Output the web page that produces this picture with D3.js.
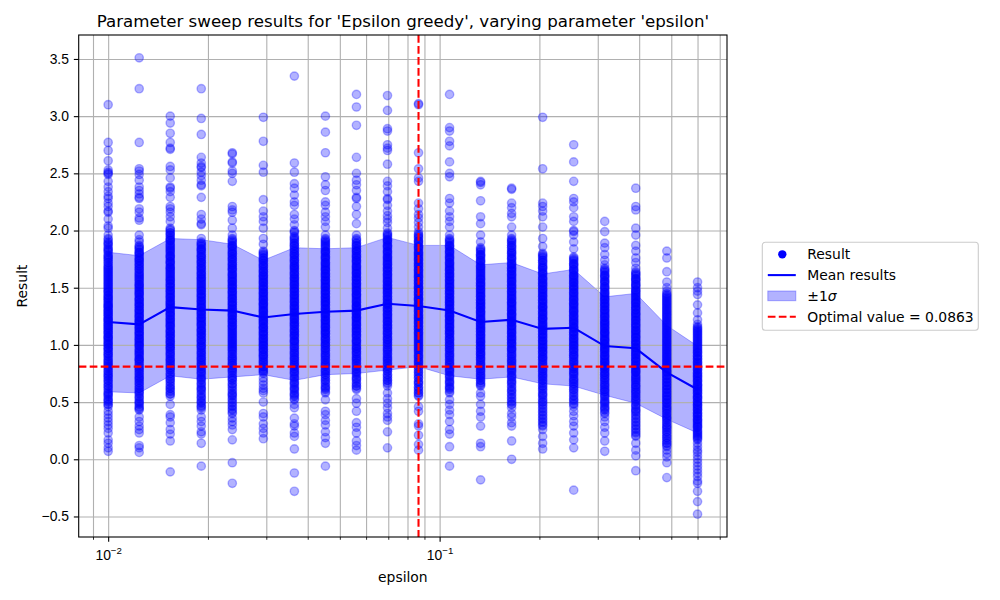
<!DOCTYPE html>
<html>
<head>
<meta charset="utf-8">
<script src="https://cdn.jsdelivr.net/npm/d3@7"></script>
<style>
  body { margin: 0; background: #fff; }
  svg { font-family: "DejaVu Sans", sans-serif; }
</style>
</head>
<body>
<svg id="chart" width="1000" height="600"></svg>
<script>
// swept values of epsilon (log spaced)
let epsilons = [0.0100, 0.012406, 0.015391, 0.019094, 0.023688, 0.029388, 0.036459, 0.045231, 0.056114, 0.069616,
                0.086366, 0.10715, 0.13293, 0.16491, 0.20459, 0.25382, 0.31489, 0.39065, 0.48464, 0.6000];

// results of every run, one list per epsilon
let res0 = [3.10, 2.77, 2.70, 2.61, 2.53, 2.51, 2.50, 2.49, 2.43, 2.38, 2.34, 2.30, 2.28, 2.24, 2.21, 2.17, 2.16, 2.10, 2.04, 2.02, 1.96,
  1.93, 1.90, 1.88, 1.85, 1.83, 1.81, 1.78, 1.76, 1.75, 1.72, 1.70, 1.68, 1.66, 1.64, 1.62, 1.61, 1.59, 1.57, 1.55, 1.54, 1.52, 1.50, 1.49, 1.47, 1.46, 1.44, 1.43, 1.41, 1.40, 1.38, 1.37, 1.35, 1.34, 1.33, 1.31, 1.30, 1.29, 1.27, 1.26, 1.25, 1.23, 1.22, 1.21, 1.19, 1.18, 1.17, 1.15, 1.14, 1.13, 1.11, 1.10, 1.08, 1.07, 1.06, 1.04, 1.03, 1.01, 1.00, 0.98, 0.97, 0.95, 0.93, 0.92, 0.90, 0.88, 0.86, 0.84, 0.83, 0.81, 0.79, 0.77, 0.75, 0.73, 0.71, 0.69, 0.66, 0.64, 0.62, 0.59, 0.57, 0.55, 0.52, 0.50, 0.48, 0.46,
  0.42, 0.39, 0.36, 0.33, 0.30, 0.27, 0.23, 0.17, 0.14, 0.10, 0.07];
let res1 = [3.51, 3.24, 2.77, 2.54, 2.52, 2.49, 2.44, 2.38, 2.35, 2.32, 2.29, 2.28, 2.19, 2.16, 2.11, 2.09, 1.96, 1.92, 1.90,
  1.87, 1.85, 1.83, 1.81, 1.80, 1.78, 1.76, 1.74, 1.73, 1.71, 1.69, 1.67, 1.66, 1.64, 1.62, 1.60, 1.59, 1.57, 1.55, 1.53, 1.52, 1.50, 1.48, 1.47, 1.45, 1.44, 1.42, 1.40, 1.39, 1.37, 1.36, 1.34, 1.33, 1.31, 1.30, 1.28, 1.27, 1.25, 1.24, 1.22, 1.21, 1.20, 1.18, 1.17, 1.15, 1.14, 1.12, 1.11, 1.09, 1.08, 1.06, 1.05, 1.03, 1.02, 1.00, 0.99, 0.97, 0.95, 0.94, 0.92, 0.90, 0.88, 0.87, 0.85, 0.83, 0.81, 0.79, 0.77, 0.75, 0.73, 0.71, 0.69, 0.67, 0.64, 0.62, 0.60, 0.58, 0.55, 0.53, 0.50, 0.48, 0.45, 0.43,
  0.37, 0.33, 0.29, 0.26, 0.23, 0.12, 0.10, 0.06];
let res2 = [3.00, 2.94, 2.85, 2.77, 2.72, 2.71, 2.56, 2.53, 2.46, 2.38, 2.37, 2.34, 2.29, 2.21, 2.19, 2.16, 2.12, 2.08,
  2.02, 2.00, 1.98, 1.96, 1.94, 1.92, 1.91, 1.89, 1.87, 1.85, 1.84, 1.82, 1.80, 1.78, 1.77, 1.75, 1.73, 1.72, 1.70, 1.68, 1.67, 1.65, 1.64, 1.62, 1.60, 1.59, 1.57, 1.56, 1.54, 1.53, 1.51, 1.50, 1.48, 1.47, 1.45, 1.44, 1.42, 1.41, 1.39, 1.38, 1.36, 1.35, 1.34, 1.32, 1.31, 1.29, 1.28, 1.26, 1.25, 1.23, 1.22, 1.20, 1.19, 1.17, 1.16, 1.14, 1.12, 1.11, 1.09, 1.08, 1.06, 1.04, 1.03, 1.01, 0.99, 0.98, 0.96, 0.94, 0.92, 0.90, 0.88, 0.86, 0.84, 0.82, 0.80, 0.78, 0.75, 0.73, 0.70, 0.68, 0.65, 0.62, 0.60, 0.57, 0.55,
  0.48, 0.39, 0.37, 0.32, 0.26, 0.22, 0.16, -0.11];
let res3 = [3.24, 2.98, 2.84, 2.64, 2.59, 2.56, 2.55, 2.51, 2.48, 2.44, 2.40, 2.39, 2.29, 2.14, 2.10, 2.06, 2.05, 1.93,
  1.90, 1.88, 1.86, 1.84, 1.83, 1.81, 1.79, 1.77, 1.76, 1.74, 1.72, 1.71, 1.69, 1.67, 1.66, 1.64, 1.62, 1.61, 1.59, 1.58, 1.56, 1.55, 1.53, 1.51, 1.50, 1.48, 1.47, 1.45, 1.44, 1.42, 1.41, 1.39, 1.38, 1.36, 1.35, 1.33, 1.32, 1.30, 1.29, 1.27, 1.26, 1.24, 1.23, 1.21, 1.20, 1.18, 1.17, 1.15, 1.13, 1.12, 1.10, 1.09, 1.07, 1.05, 1.04, 1.02, 1.00, 0.99, 0.97, 0.95, 0.93, 0.91, 0.89, 0.87, 0.85, 0.83, 0.81, 0.79, 0.77, 0.75, 0.72, 0.70, 0.67, 0.65, 0.62, 0.60, 0.57, 0.54, 0.51, 0.49, 0.46, 0.43,
  0.37, 0.33, 0.29, 0.24, 0.22, 0.14, -0.06];
let res4 = [2.68, 2.67, 2.60, 2.59, 2.52, 2.50, 2.43, 2.21, 2.18, 2.16, 2.09, 2.02, 1.96,
  1.93, 1.91, 1.89, 1.87, 1.86, 1.84, 1.82, 1.80, 1.79, 1.77, 1.75, 1.74, 1.72, 1.70, 1.69, 1.67, 1.66, 1.64, 1.62, 1.61, 1.59, 1.58, 1.56, 1.55, 1.53, 1.52, 1.50, 1.49, 1.47, 1.46, 1.44, 1.43, 1.41, 1.40, 1.38, 1.37, 1.35, 1.34, 1.32, 1.31, 1.29, 1.28, 1.26, 1.25, 1.23, 1.22, 1.20, 1.19, 1.17, 1.16, 1.14, 1.13, 1.11, 1.09, 1.08, 1.06, 1.04, 1.03, 1.01, 0.99, 0.98, 0.96, 0.94, 0.92, 0.90, 0.88, 0.86, 0.84, 0.82, 0.80, 0.78, 0.76, 0.73, 0.71, 0.69, 0.66, 0.64, 0.61, 0.58, 0.56, 0.53, 0.50, 0.47, 0.44, 0.40,
  0.36, 0.33, 0.30, 0.26, 0.17, -0.03, -0.21];
let res5 = [2.99, 2.78, 2.57, 2.51, 2.27, 2.17, 2.12, 2.08, 2.02, 1.93, 1.88,
  1.82, 1.80, 1.78, 1.76, 1.74, 1.73, 1.71, 1.69, 1.68, 1.66, 1.64, 1.63, 1.61, 1.60, 1.58, 1.57, 1.55, 1.54, 1.52, 1.51, 1.49, 1.48, 1.46, 1.45, 1.43, 1.42, 1.40, 1.39, 1.37, 1.36, 1.35, 1.33, 1.32, 1.30, 1.29, 1.28, 1.26, 1.25, 1.23, 1.22, 1.21, 1.19, 1.18, 1.16, 1.15, 1.14, 1.12, 1.11, 1.09, 1.08, 1.06, 1.05, 1.03, 1.02, 1.00, 0.99, 0.97, 0.96, 0.94, 0.92, 0.91, 0.89, 0.87, 0.85, 0.83, 0.81, 0.79, 0.77, 0.75,
  0.71, 0.68, 0.65, 0.62, 0.60, 0.58, 0.50, 0.40, 0.37, 0.31, 0.27, 0.23, 0.18];
let res6 = [3.35, 2.59, 2.51, 2.41, 2.37, 2.31, 2.25, 2.22, 2.14, 2.10, 2.05, 2.00, 1.99, 1.98,
  1.95, 1.93, 1.91, 1.89, 1.87, 1.86, 1.84, 1.82, 1.80, 1.79, 1.77, 1.75, 1.74, 1.72, 1.70, 1.69, 1.67, 1.66, 1.64, 1.62, 1.61, 1.59, 1.58, 1.56, 1.55, 1.53, 1.52, 1.50, 1.49, 1.47, 1.46, 1.44, 1.43, 1.41, 1.40, 1.38, 1.37, 1.35, 1.34, 1.32, 1.31, 1.29, 1.28, 1.26, 1.25, 1.23, 1.22, 1.20, 1.19, 1.17, 1.16, 1.14, 1.12, 1.11, 1.09, 1.08, 1.06, 1.04, 1.03, 1.01, 0.99, 0.97, 0.95, 0.93, 0.91, 0.89, 0.87, 0.85, 0.83, 0.81, 0.79, 0.77, 0.75, 0.72, 0.70, 0.67, 0.65, 0.62, 0.60, 0.57, 0.55, 0.52,
  0.48, 0.45, 0.36, 0.31, 0.29, 0.23, 0.20, 0.09, -0.12, -0.28];
let res7 = [3.00, 2.86, 2.68, 2.47, 2.40, 2.35, 2.25, 2.22, 2.16, 2.12, 2.08, 2.03, 1.96,
  1.93, 1.91, 1.89, 1.88, 1.86, 1.84, 1.82, 1.81, 1.79, 1.77, 1.76, 1.74, 1.72, 1.71, 1.69, 1.68, 1.66, 1.65, 1.63, 1.62, 1.60, 1.59, 1.57, 1.56, 1.54, 1.53, 1.51, 1.50, 1.48, 1.47, 1.45, 1.44, 1.42, 1.41, 1.39, 1.38, 1.37, 1.35, 1.34, 1.32, 1.31, 1.29, 1.28, 1.27, 1.25, 1.24, 1.22, 1.21, 1.19, 1.18, 1.16, 1.15, 1.13, 1.12, 1.10, 1.09, 1.07, 1.05, 1.04, 1.02, 1.00, 0.99, 0.97, 0.95, 0.93, 0.91, 0.89, 0.87, 0.85, 0.83, 0.81, 0.78, 0.76, 0.74, 0.71, 0.69, 0.66, 0.63, 0.61, 0.58,
  0.52, 0.42, 0.39, 0.34, 0.30, 0.24, 0.19, 0.14, -0.06];
let res8 = [3.19, 3.08, 2.92, 2.64, 2.50, 2.44, 2.40, 2.35, 2.29, 2.28, 2.21, 2.14, 2.06, 1.96,
  1.93, 1.91, 1.89, 1.87, 1.86, 1.84, 1.82, 1.81, 1.79, 1.77, 1.76, 1.74, 1.73, 1.71, 1.69, 1.68, 1.66, 1.65, 1.63, 1.62, 1.60, 1.59, 1.57, 1.56, 1.54, 1.53, 1.51, 1.50, 1.48, 1.47, 1.45, 1.44, 1.43, 1.41, 1.40, 1.38, 1.37, 1.35, 1.34, 1.33, 1.31, 1.30, 1.28, 1.27, 1.25, 1.24, 1.23, 1.21, 1.20, 1.18, 1.17, 1.15, 1.14, 1.12, 1.11, 1.09, 1.08, 1.06, 1.04, 1.03, 1.01, 0.99, 0.97, 0.96, 0.94, 0.92, 0.90, 0.88, 0.86, 0.84, 0.82, 0.79, 0.77, 0.75, 0.72, 0.70, 0.67, 0.64, 0.61,
  0.53, 0.49, 0.42, 0.32, 0.28, 0.23, 0.16, 0.12, 0.08];
let res9 = [3.18, 3.05, 2.89, 2.87, 2.75, 2.72, 2.70, 2.58, 2.43, 2.39, 2.34, 2.28, 2.27, 2.22, 2.17, 2.13, 2.10, 2.07, 2.02,
  1.98, 1.96, 1.94, 1.92, 1.91, 1.89, 1.87, 1.86, 1.84, 1.82, 1.81, 1.79, 1.77, 1.76, 1.74, 1.73, 1.71, 1.70, 1.68, 1.67, 1.65, 1.64, 1.62, 1.61, 1.59, 1.58, 1.56, 1.55, 1.53, 1.52, 1.50, 1.49, 1.48, 1.46, 1.45, 1.43, 1.42, 1.40, 1.39, 1.37, 1.36, 1.35, 1.33, 1.32, 1.30, 1.29, 1.27, 1.26, 1.24, 1.23, 1.21, 1.20, 1.18, 1.17, 1.15, 1.14, 1.12, 1.10, 1.09, 1.07, 1.05, 1.04, 1.02, 1.00, 0.98, 0.96, 0.94, 0.92, 0.90, 0.88, 0.86, 0.84, 0.81, 0.79, 0.77, 0.74, 0.72, 0.69, 0.67, 0.64,
  0.58, 0.53, 0.49, 0.45, 0.40, 0.37, 0.34, 0.24, 0.10];
let res10 = [3.11, 3.10, 2.68, 2.54, 2.46, 2.43, 2.24, 2.19, 2.14, 2.11, 2.07, 2.03, 1.99,
  1.97, 1.95, 1.93, 1.91, 1.90, 1.88, 1.86, 1.85, 1.83, 1.81, 1.80, 1.78, 1.77, 1.75, 1.74, 1.72, 1.71, 1.69, 1.68, 1.66, 1.65, 1.63, 1.62, 1.60, 1.59, 1.57, 1.56, 1.54, 1.53, 1.51, 1.50, 1.49, 1.47, 1.46, 1.44, 1.43, 1.41, 1.40, 1.39, 1.37, 1.36, 1.34, 1.33, 1.32, 1.30, 1.29, 1.27, 1.26, 1.24, 1.23, 1.22, 1.20, 1.19, 1.17, 1.16, 1.14, 1.13, 1.11, 1.10, 1.08, 1.07, 1.05, 1.03, 1.02, 1.00, 0.98, 0.97, 0.95, 0.93, 0.91, 0.89, 0.87, 0.85, 0.83, 0.81, 0.78, 0.76, 0.73, 0.71, 0.68, 0.66, 0.63, 0.60, 0.58, 0.55,
  0.46, 0.42, 0.31, 0.29, 0.21, 0.13, 0.08];
let res11 = [3.19, 2.90, 2.87, 2.78, 2.74, 2.60, 2.50, 2.47, 2.28, 2.24, 2.17, 2.12, 2.08, 2.03, 1.96,
  1.93, 1.91, 1.89, 1.87, 1.86, 1.84, 1.82, 1.81, 1.79, 1.77, 1.76, 1.74, 1.72, 1.71, 1.69, 1.68, 1.66, 1.65, 1.63, 1.62, 1.60, 1.59, 1.57, 1.56, 1.54, 1.53, 1.51, 1.50, 1.48, 1.47, 1.45, 1.44, 1.42, 1.41, 1.39, 1.38, 1.37, 1.35, 1.34, 1.32, 1.31, 1.29, 1.28, 1.26, 1.25, 1.24, 1.22, 1.21, 1.19, 1.18, 1.16, 1.15, 1.13, 1.12, 1.10, 1.09, 1.07, 1.05, 1.04, 1.02, 1.00, 0.99, 0.97, 0.95, 0.93, 0.91, 0.89, 0.87, 0.85, 0.83, 0.80, 0.78, 0.76, 0.73, 0.71, 0.68, 0.66, 0.63, 0.61, 0.58,
  0.52, 0.48, 0.43, 0.39, 0.33, 0.26, 0.22, 0.11, -0.06];
let res12 = [2.43, 2.42, 2.40, 2.26, 2.12, 2.06, 1.96, 1.90,
  1.85, 1.83, 1.81, 1.79, 1.78, 1.76, 1.74, 1.73, 1.71, 1.69, 1.68, 1.66, 1.65, 1.63, 1.61, 1.60, 1.58, 1.57, 1.55, 1.54, 1.52, 1.51, 1.49, 1.48, 1.46, 1.45, 1.43, 1.42, 1.40, 1.39, 1.37, 1.36, 1.35, 1.33, 1.32, 1.30, 1.29, 1.28, 1.26, 1.25, 1.23, 1.22, 1.21, 1.19, 1.18, 1.16, 1.15, 1.14, 1.12, 1.11, 1.09, 1.08, 1.06, 1.05, 1.03, 1.02, 1.00, 0.99, 0.97, 0.96, 0.94, 0.92, 0.91, 0.89, 0.87, 0.85, 0.83, 0.81, 0.79, 0.77, 0.75, 0.73, 0.71, 0.69, 0.66, 0.64,
  0.58, 0.55, 0.48, 0.42, 0.37, 0.29, 0.14, 0.11, -0.18];
let res13 = [2.37, 2.36, 2.24, 2.20, 2.15, 2.12, 2.03, 1.96,
  1.93, 1.91, 1.89, 1.87, 1.85, 1.83, 1.81, 1.80, 1.78, 1.76, 1.75, 1.73, 1.71, 1.70, 1.68, 1.67, 1.65, 1.64, 1.62, 1.61, 1.59, 1.58, 1.56, 1.55, 1.53, 1.52, 1.50, 1.49, 1.47, 1.46, 1.44, 1.43, 1.41, 1.40, 1.38, 1.37, 1.36, 1.34, 1.33, 1.31, 1.30, 1.28, 1.27, 1.26, 1.24, 1.23, 1.21, 1.20, 1.19, 1.17, 1.16, 1.14, 1.13, 1.11, 1.10, 1.08, 1.07, 1.05, 1.04, 1.02, 1.01, 0.99, 0.97, 0.96, 0.94, 0.92, 0.90, 0.88, 0.86, 0.84, 0.82, 0.80, 0.78, 0.76, 0.73, 0.71, 0.68, 0.66, 0.63, 0.60, 0.57, 0.54, 0.51, 0.48, 0.45,
  0.40, 0.37, 0.32, 0.29, 0.16, 0.00];
let res14 = [2.99, 2.54, 2.24, 2.21, 2.17, 2.12, 2.03, 1.93, 1.86,
  1.80, 1.78, 1.76, 1.74, 1.72, 1.70, 1.68, 1.67, 1.65, 1.63, 1.62, 1.60, 1.58, 1.57, 1.55, 1.54, 1.52, 1.51, 1.49, 1.48, 1.46, 1.45, 1.43, 1.42, 1.40, 1.39, 1.37, 1.36, 1.34, 1.33, 1.32, 1.30, 1.29, 1.27, 1.26, 1.24, 1.23, 1.22, 1.20, 1.19, 1.17, 1.16, 1.15, 1.13, 1.12, 1.10, 1.09, 1.07, 1.06, 1.04, 1.03, 1.01, 1.00, 0.98, 0.97, 0.95, 0.94, 0.92, 0.90, 0.89, 0.87, 0.85, 0.83, 0.81, 0.79, 0.77, 0.75, 0.73, 0.71, 0.69, 0.67, 0.64, 0.62, 0.60, 0.57, 0.55, 0.52, 0.50, 0.47, 0.44, 0.41, 0.38, 0.35, 0.32, 0.29,
  0.26, 0.20, 0.14, 0.09];
let res15 = [2.75, 2.60, 2.43, 2.28, 2.25, 2.20, 2.12, 2.08, 2.00, 1.99, 1.96, 1.90, 1.84,
  1.77, 1.75, 1.73, 1.71, 1.70, 1.68, 1.66, 1.65, 1.63, 1.61, 1.60, 1.58, 1.57, 1.55, 1.54, 1.52, 1.51, 1.49, 1.48, 1.46, 1.45, 1.43, 1.42, 1.40, 1.39, 1.37, 1.36, 1.35, 1.33, 1.32, 1.30, 1.29, 1.28, 1.26, 1.25, 1.23, 1.22, 1.21, 1.19, 1.18, 1.16, 1.15, 1.14, 1.12, 1.11, 1.09, 1.08, 1.06, 1.05, 1.03, 1.02, 1.00, 0.99, 0.97, 0.96, 0.94, 0.92, 0.91, 0.89, 0.87, 0.85, 0.83, 0.81, 0.79, 0.77, 0.75, 0.73, 0.70, 0.68, 0.66, 0.63, 0.61, 0.58, 0.55, 0.52, 0.49, 0.46,
  0.42, 0.38, 0.33, 0.29, 0.23, 0.17, 0.10, -0.27];
let res16 = [2.08, 1.99, 1.89, 1.85, 1.79, 1.74, 1.70,
  1.67, 1.65, 1.63, 1.61, 1.60, 1.58, 1.56, 1.55, 1.53, 1.51, 1.50, 1.48, 1.46, 1.45, 1.43, 1.42, 1.40, 1.39, 1.37, 1.36, 1.34, 1.33, 1.31, 1.30, 1.28, 1.27, 1.25, 1.24, 1.22, 1.21, 1.19, 1.18, 1.17, 1.15, 1.14, 1.12, 1.11, 1.10, 1.08, 1.07, 1.05, 1.04, 1.03, 1.01, 1.00, 0.98, 0.97, 0.96, 0.94, 0.93, 0.91, 0.90, 0.88, 0.87, 0.85, 0.84, 0.82, 0.81, 0.79, 0.78, 0.76, 0.74, 0.73, 0.71, 0.69, 0.67, 0.65, 0.63, 0.61, 0.59, 0.57, 0.55, 0.52, 0.50, 0.48, 0.45, 0.43, 0.40,
  0.37, 0.33, 0.28, 0.23, 0.16, 0.07];
let res17 = [2.37, 2.21, 2.18, 2.02, 1.96, 1.87, 1.82, 1.76, 1.72, 1.67,
  1.64, 1.62, 1.60, 1.58, 1.57, 1.55, 1.53, 1.52, 1.50, 1.48, 1.47, 1.45, 1.44, 1.42, 1.40, 1.39, 1.37, 1.36, 1.34, 1.33, 1.31, 1.30, 1.28, 1.27, 1.25, 1.24, 1.22, 1.21, 1.19, 1.18, 1.16, 1.15, 1.13, 1.12, 1.10, 1.09, 1.07, 1.06, 1.04, 1.03, 1.01, 1.00, 0.98, 0.97, 0.95, 0.94, 0.92, 0.91, 0.89, 0.88, 0.86, 0.85, 0.83, 0.82, 0.80, 0.79, 0.77, 0.76, 0.74, 0.72, 0.71, 0.69, 0.67, 0.65, 0.63, 0.61, 0.59, 0.57, 0.55, 0.53, 0.51, 0.48, 0.46, 0.43, 0.41, 0.38, 0.35, 0.32, 0.29, 0.26, 0.23, 0.20,
  0.14, 0.08, 0.03, -0.10];
let res18 = [1.82, 1.76, 1.64, 1.55, 1.50, 1.47,
  1.45, 1.43, 1.41, 1.39, 1.38, 1.36, 1.34, 1.32, 1.31, 1.29, 1.27, 1.26, 1.24, 1.22, 1.21, 1.19, 1.17, 1.16, 1.14, 1.13, 1.11, 1.10, 1.08, 1.07, 1.05, 1.04, 1.02, 1.01, 0.99, 0.98, 0.96, 0.95, 0.93, 0.92, 0.90, 0.89, 0.87, 0.86, 0.84, 0.83, 0.81, 0.80, 0.78, 0.77, 0.76, 0.74, 0.73, 0.71, 0.70, 0.68, 0.67, 0.65, 0.64, 0.62, 0.61, 0.59, 0.58, 0.56, 0.55, 0.53, 0.52, 0.50, 0.49, 0.47, 0.45, 0.44, 0.42, 0.40, 0.38, 0.36, 0.34, 0.32, 0.30, 0.28, 0.26, 0.24, 0.21, 0.19, 0.16, 0.14, 0.11,
  0.08, 0.05, 0.02, -0.03, -0.16];
let res19 = [1.55, 1.50, 1.47, 1.44, 1.35, 1.28, 1.22, 1.18,
  1.16, 1.14, 1.12, 1.11, 1.09, 1.07, 1.06, 1.04, 1.02, 1.01, 0.99, 0.97, 0.96, 0.94, 0.93, 0.91, 0.90, 0.88, 0.87, 0.85, 0.84, 0.82, 0.81, 0.79, 0.78, 0.76, 0.75, 0.73, 0.72, 0.71, 0.69, 0.68, 0.66, 0.65, 0.64, 0.62, 0.61, 0.60, 0.58, 0.57, 0.55, 0.54, 0.53, 0.51, 0.50, 0.48, 0.47, 0.46, 0.44, 0.43, 0.41, 0.40, 0.38, 0.37, 0.35, 0.34, 0.32, 0.31, 0.29, 0.28, 0.26, 0.24, 0.23, 0.21, 0.19, 0.17,
  0.14, 0.11, 0.08, 0.06, 0.03, 0.00, -0.03, -0.06, -0.09, -0.12, -0.15, -0.19, -0.21, -0.28, -0.37, -0.48];

// second batch of runs, all inside the dense part of each column
let res0b = [1.92, 1.89, 1.87, 1.84, 1.82, 1.79, 1.77, 1.74, 1.72, 1.69, 1.67, 1.65, 1.63, 1.60, 1.58, 1.56, 1.53, 1.51, 1.48, 1.46, 1.43, 1.41, 1.39, 1.36, 1.34, 1.32, 1.29, 1.27, 1.24, 1.22, 1.20, 1.17, 1.15, 1.12, 1.10, 1.07, 1.05, 1.02, 1.00, 0.97, 0.95, 0.92, 0.90, 0.87, 0.85, 0.82, 0.80, 0.77, 0.74, 0.72, 0.69, 0.67, 0.64, 0.61, 0.58, 0.56, 0.53, 0.51, 0.48];
let res1b = [1.86, 1.84, 1.81, 1.79, 1.76, 1.74, 1.71, 1.69, 1.66, 1.63, 1.61, 1.58, 1.56, 1.53, 1.51, 1.49, 1.46, 1.44, 1.41, 1.39, 1.36, 1.34, 1.31, 1.29, 1.26, 1.24, 1.21, 1.19, 1.16, 1.14, 1.11, 1.09, 1.06, 1.04, 1.01, 0.99, 0.96, 0.93, 0.91, 0.88, 0.86, 0.83, 0.80, 0.78, 0.75, 0.72, 0.70, 0.67, 0.65, 0.62, 0.59, 0.57, 0.54, 0.51, 0.49, 0.46, 0.44];
let res2b = [2.01, 1.98, 1.96, 1.93, 1.91, 1.88, 1.86, 1.83, 1.81, 1.78, 1.76, 1.73, 1.71, 1.68, 1.66, 1.63, 1.61, 1.58, 1.56, 1.53, 1.51, 1.48, 1.46, 1.43, 1.41, 1.38, 1.36, 1.33, 1.31, 1.28, 1.26, 1.23, 1.21, 1.18, 1.16, 1.13, 1.11, 1.08, 1.06, 1.03, 1.01, 0.98, 0.96, 0.93, 0.91, 0.88, 0.86, 0.83, 0.80, 0.78, 0.75, 0.72, 0.70, 0.67, 0.64, 0.62, 0.59, 0.57];
let res3b = [1.89, 1.87, 1.84, 1.82, 1.79, 1.77, 1.74, 1.72, 1.69, 1.67, 1.64, 1.62, 1.59, 1.57, 1.54, 1.52, 1.49, 1.47, 1.44, 1.42, 1.39, 1.37, 1.34, 1.32, 1.29, 1.27, 1.24, 1.22, 1.19, 1.17, 1.14, 1.12, 1.09, 1.07, 1.04, 1.02, 0.99, 0.97, 0.94, 0.92, 0.89, 0.87, 0.84, 0.82, 0.79, 0.76, 0.74, 0.71, 0.69, 0.66, 0.63, 0.61, 0.58, 0.55, 0.53, 0.50, 0.47, 0.45];
let res4b = [1.92, 1.90, 1.87, 1.85, 1.82, 1.80, 1.77, 1.75, 1.72, 1.70, 1.67, 1.65, 1.62, 1.60, 1.57, 1.55, 1.52, 1.50, 1.47, 1.45, 1.42, 1.40, 1.37, 1.35, 1.32, 1.30, 1.27, 1.25, 1.22, 1.20, 1.17, 1.15, 1.12, 1.10, 1.07, 1.05, 1.02, 1.00, 0.97, 0.95, 0.92, 0.89, 0.87, 0.84, 0.82, 0.79, 0.77, 0.74, 0.71, 0.69, 0.66, 0.63, 0.60, 0.57, 0.55, 0.52, 0.49, 0.46, 0.43, 0.41];
let res5b = [1.81, 1.79, 1.76, 1.74, 1.71, 1.69, 1.66, 1.64, 1.61, 1.59, 1.56, 1.54, 1.51, 1.49, 1.46, 1.44, 1.41, 1.39, 1.36, 1.34, 1.31, 1.29, 1.26, 1.24, 1.21, 1.19, 1.16, 1.14, 1.11, 1.09, 1.06, 1.04, 1.01, 0.99, 0.96, 0.94, 0.91, 0.89, 0.86, 0.84, 0.81, 0.78, 0.76];
let res6b = [1.94, 1.92, 1.89, 1.87, 1.84, 1.82, 1.79, 1.77, 1.74, 1.72, 1.69, 1.67, 1.64, 1.62, 1.59, 1.57, 1.54, 1.52, 1.49, 1.47, 1.44, 1.42, 1.39, 1.37, 1.34, 1.32, 1.29, 1.27, 1.24, 1.22, 1.19, 1.17, 1.14, 1.12, 1.09, 1.07, 1.04, 1.02, 0.99, 0.97, 0.94, 0.92, 0.89, 0.87, 0.84, 0.82, 0.79, 0.76, 0.74, 0.71, 0.68, 0.66, 0.63, 0.61, 0.58, 0.56, 0.53];
let res7b = [1.92, 1.90, 1.87, 1.85, 1.82, 1.80, 1.77, 1.75, 1.72, 1.70, 1.67, 1.65, 1.62, 1.60, 1.57, 1.55, 1.52, 1.50, 1.47, 1.45, 1.42, 1.40, 1.37, 1.35, 1.32, 1.30, 1.27, 1.25, 1.22, 1.20, 1.17, 1.15, 1.12, 1.10, 1.07, 1.05, 1.02, 1.00, 0.97, 0.95, 0.92, 0.90, 0.87, 0.84, 0.82, 0.79, 0.77, 0.74, 0.72, 0.69, 0.67, 0.64, 0.62, 0.59];
let res8b = [1.92, 1.89, 1.87, 1.84, 1.82, 1.79, 1.77, 1.74, 1.72, 1.69, 1.67, 1.64, 1.62, 1.59, 1.57, 1.54, 1.52, 1.49, 1.47, 1.44, 1.42, 1.39, 1.37, 1.34, 1.32, 1.29, 1.27, 1.24, 1.22, 1.19, 1.17, 1.14, 1.12, 1.09, 1.07, 1.04, 1.02, 0.99, 0.97, 0.94, 0.92, 0.89, 0.87, 0.84, 0.81, 0.79, 0.76, 0.74, 0.71, 0.69, 0.66, 0.64, 0.62];
let res9b = [1.97, 1.95, 1.92, 1.90, 1.87, 1.85, 1.82, 1.80, 1.77, 1.75, 1.72, 1.70, 1.67, 1.65, 1.62, 1.60, 1.57, 1.55, 1.52, 1.50, 1.47, 1.45, 1.42, 1.40, 1.37, 1.35, 1.32, 1.30, 1.27, 1.25, 1.22, 1.20, 1.17, 1.15, 1.12, 1.10, 1.07, 1.05, 1.02, 1.00, 0.97, 0.95, 0.92, 0.89, 0.87, 0.84, 0.82, 0.79, 0.77, 0.74, 0.71, 0.69, 0.66];
let res10b = [1.96, 1.94, 1.91, 1.89, 1.86, 1.84, 1.81, 1.79, 1.76, 1.74, 1.71, 1.69, 1.66, 1.64, 1.61, 1.59, 1.56, 1.54, 1.51, 1.49, 1.46, 1.44, 1.41, 1.39, 1.36, 1.34, 1.31, 1.29, 1.26, 1.24, 1.21, 1.19, 1.16, 1.14, 1.11, 1.09, 1.06, 1.04, 1.01, 0.99, 0.96, 0.94, 0.91, 0.89, 0.86, 0.84, 0.81, 0.79, 0.76, 0.74, 0.71, 0.68, 0.66, 0.63, 0.61, 0.58, 0.56];
let res11b = [1.92, 1.90, 1.87, 1.85, 1.82, 1.80, 1.77, 1.75, 1.72, 1.70, 1.67, 1.65, 1.62, 1.60, 1.57, 1.55, 1.52, 1.50, 1.47, 1.45, 1.42, 1.40, 1.37, 1.35, 1.32, 1.30, 1.27, 1.25, 1.22, 1.20, 1.17, 1.15, 1.12, 1.10, 1.07, 1.05, 1.02, 1.00, 0.97, 0.95, 0.92, 0.90, 0.87, 0.84, 0.82, 0.79, 0.77, 0.74, 0.72, 0.69, 0.67, 0.64, 0.62, 0.59];
let res12b = [1.84, 1.82, 1.79, 1.77, 1.74, 1.72, 1.69, 1.67, 1.64, 1.62, 1.59, 1.57, 1.54, 1.52, 1.49, 1.47, 1.44, 1.42, 1.39, 1.37, 1.34, 1.32, 1.29, 1.27, 1.24, 1.22, 1.19, 1.17, 1.14, 1.12, 1.09, 1.07, 1.04, 1.02, 0.99, 0.97, 0.94, 0.92, 0.89, 0.87, 0.84, 0.82, 0.79, 0.77, 0.74, 0.72, 0.69, 0.67, 0.65];
let res13b = [1.92, 1.90, 1.87, 1.85, 1.82, 1.80, 1.77, 1.75, 1.72, 1.70, 1.67, 1.65, 1.62, 1.60, 1.57, 1.55, 1.52, 1.50, 1.47, 1.45, 1.42, 1.40, 1.37, 1.35, 1.32, 1.30, 1.27, 1.25, 1.22, 1.20, 1.17, 1.15, 1.12, 1.10, 1.07, 1.05, 1.02, 1.00, 0.97, 0.95, 0.92, 0.90, 0.87, 0.85, 0.82, 0.79, 0.77, 0.74, 0.72, 0.69, 0.67, 0.64, 0.61, 0.59, 0.56, 0.53, 0.50, 0.48];
let res14b = [1.79, 1.77, 1.74, 1.72, 1.69, 1.67, 1.64, 1.62, 1.59, 1.57, 1.54, 1.52, 1.49, 1.47, 1.44, 1.42, 1.39, 1.37, 1.34, 1.32, 1.29, 1.27, 1.24, 1.22, 1.19, 1.17, 1.14, 1.12, 1.09, 1.07, 1.04, 1.02, 0.99, 0.97, 0.94, 0.92, 0.89, 0.87, 0.84, 0.82, 0.79, 0.77, 0.74, 0.72, 0.69, 0.66, 0.64, 0.61, 0.58, 0.56, 0.53, 0.50, 0.48, 0.45, 0.42, 0.39, 0.36, 0.33, 0.30];
let res15b = [1.76, 1.74, 1.71, 1.69, 1.66, 1.64, 1.61, 1.59, 1.56, 1.54, 1.51, 1.49, 1.46, 1.44, 1.41, 1.39, 1.36, 1.34, 1.31, 1.29, 1.26, 1.24, 1.21, 1.19, 1.16, 1.14, 1.11, 1.09, 1.06, 1.04, 1.01, 0.99, 0.96, 0.94, 0.91, 0.89, 0.86, 0.84, 0.81, 0.79, 0.76, 0.74, 0.71, 0.69, 0.66, 0.64, 0.61, 0.59, 0.56, 0.53, 0.51, 0.48];
let res16b = [1.66, 1.64, 1.61, 1.59, 1.56, 1.54, 1.51, 1.49, 1.46, 1.44, 1.41, 1.39, 1.36, 1.34, 1.31, 1.29, 1.26, 1.24, 1.21, 1.19, 1.16, 1.14, 1.11, 1.09, 1.06, 1.04, 1.01, 0.99, 0.96, 0.94, 0.91, 0.89, 0.86, 0.84, 0.81, 0.79, 0.76, 0.74, 0.71, 0.69, 0.66, 0.64, 0.61, 0.59, 0.56, 0.54, 0.51, 0.49, 0.46, 0.44, 0.41];
let res17b = [1.63, 1.61, 1.58, 1.56, 1.53, 1.51, 1.48, 1.46, 1.43, 1.41, 1.38, 1.36, 1.33, 1.31, 1.28, 1.26, 1.23, 1.21, 1.18, 1.16, 1.13, 1.11, 1.08, 1.06, 1.03, 1.01, 0.98, 0.96, 0.93, 0.91, 0.88, 0.86, 0.83, 0.81, 0.78, 0.76, 0.73, 0.70, 0.68, 0.65, 0.63, 0.60, 0.58, 0.55, 0.52, 0.50, 0.47, 0.44, 0.42, 0.39, 0.36, 0.33, 0.30, 0.27, 0.24, 0.21];
let res18b = [1.44, 1.42, 1.40, 1.37, 1.35, 1.33, 1.30, 1.28, 1.25, 1.23, 1.20, 1.18, 1.15, 1.12, 1.09, 1.06, 1.03, 1.00, 0.97, 0.94, 0.91, 0.88, 0.85, 0.82, 0.79, 0.76, 0.73, 0.70, 0.67, 0.64, 0.61, 0.58, 0.55, 0.52, 0.49, 0.46, 0.43, 0.40, 0.37, 0.35, 0.32, 0.29, 0.27, 0.24, 0.22, 0.19, 0.17, 0.14, 0.12];
let res19b = [1.15, 1.13, 1.10, 1.08, 1.05, 1.03, 1.00, 0.98, 0.95, 0.93, 0.90, 0.88, 0.85, 0.83, 0.80, 0.78, 0.75, 0.73, 0.70, 0.68, 0.65, 0.63, 0.60, 0.58, 0.55, 0.53, 0.50, 0.48, 0.45, 0.43, 0.40, 0.38, 0.35, 0.33, 0.30, 0.28, 0.25, 0.22, 0.20, 0.18];

let results = [res0.concat(res0b), res1.concat(res1b), res2.concat(res2b), res3.concat(res3b), res4.concat(res4b),
               res5.concat(res5b), res6.concat(res6b), res7.concat(res7b), res8.concat(res8b), res9.concat(res9b),
               res10.concat(res10b), res11.concat(res11b), res12.concat(res12b), res13.concat(res13b), res14.concat(res14b),
               res15.concat(res15b), res16.concat(res16b), res17.concat(res17b), res18.concat(res18b), res19.concat(res19b)];

// mean and standard deviation per epsilon
let meanResults = [1.20, 1.18, 1.33, 1.31, 1.30, 1.24, 1.27, 1.29, 1.30, 1.36,
                   1.34, 1.30, 1.20, 1.22, 1.14, 1.15, 0.99, 0.97, 0.76, 0.61];
let stdResults = [0.61, 0.60, 0.60, 0.61, 0.58, 0.50, 0.58, 0.55, 0.55, 0.58,
                  0.53, 0.57, 0.50, 0.50, 0.48, 0.51, 0.43, 0.48, 0.41, 0.38];

let optimalEpsilon = 0.086366;
let resultLine = 0.81;

// ticks and labels
let xMajorTicks = [0.01, 0.1];
let xMajorExponents = ["\u22122", "\u22121"];
let yTicks = [-0.5, 0.0, 0.5, 1.0, 1.5, 2.0, 2.5, 3.0, 3.5];
let legendLabels = ["Result", "Mean results", "\u00b11", "Optimal value = 0.0863"];
let titleText = "Parameter sweep results for 'Epsilon greedy', varying parameter 'epsilon'";

let svg = d3.select("#chart");
let plotLeft = 78.7, plotRight = 727, plotTop = 35, plotBottom = 537;
let fontSize = 13.9;

// axis limits with a 5% margin like matplotlib autoscale
let logMin = Math.log10(d3.min(epsilons)), logMax = Math.log10(d3.max(epsilons));
let logPad = (logMax - logMin) * 0.05;
let allResults = results.flat();
let yMin = d3.min(allResults), yMax = d3.max(allResults);
let yPad = (yMax - yMin) * 0.05;

let x = d3.scaleLog()
    .domain([Math.pow(10, logMin - logPad), Math.pow(10, logMax + logPad)])
    .range([plotLeft, plotRight]);
let y = d3.scaleLinear()
    .domain([yMin - yPad, yMax + yPad])
    .range([plotBottom, plotTop]);

svg.append("clipPath").attr("id", "plotClip")
    .append("rect").attr("x", plotLeft).attr("y", plotTop)
    .attr("width", plotRight - plotLeft).attr("height", plotBottom - plotTop);

let plot = svg.append("g").attr("clip-path", "url(#plotClip)");

// +-1 sigma band
let band = d3.area()
    .x((d, i) => x(epsilons[i]))
    .y0((d, i) => y(meanResults[i] - stdResults[i]))
    .y1((d, i) => y(meanResults[i] + stdResults[i]));
plot.append("path")
    .datum(meanResults)
    .attr("d", band)
    .attr("fill", "blue").attr("fill-opacity", 0.3)
    .attr("stroke", "blue").attr("stroke-opacity", 0.3).attr("stroke-width", 1);

// grid lines (major and minor)
let gridX = plot.append("g")
    .attr("transform", "translate(0," + plotBottom + ")")
    .call(d3.axisBottom(x).tickValues(x.ticks()).tickSize(-(plotBottom - plotTop)).tickFormat(""));
let gridY = plot.append("g")
    .attr("transform", "translate(" + plotLeft + ",0)")
    .call(d3.axisLeft(y).tickValues(yTicks).tickSize(-(plotRight - plotLeft)).tickFormat(""));
[gridX, gridY].forEach(g => {
    g.select(".domain").remove();
    g.selectAll("line").attr("stroke", "#b0b0b0").attr("stroke-width", 1.1);
});

// all results as points
let points = [];
results.forEach((col, i) => col.forEach(v => points.push({eps: epsilons[i], val: v})));
plot.append("g")
    .selectAll("circle")
    .data(points).enter()
    .append("circle")
    .attr("cx", d => x(d.eps))
    .attr("cy", d => y(d.val))
    .attr("r", 4.17)
    .attr("fill", "blue").attr("fill-opacity", 0.3)
    .attr("stroke", "blue").attr("stroke-opacity", 0.3).attr("stroke-width", 1.39);

// mean line
let meanLine = d3.line()
    .x((d, i) => x(epsilons[i]))
    .y(d => y(d));
plot.append("path")
    .datum(meanResults)
    .attr("d", meanLine)
    .attr("fill", "none")
    .attr("stroke", "blue")
    .attr("stroke-width", 2.08);

// optimal value markers
plot.append("line")
    .attr("x1", x(optimalEpsilon)).attr("x2", x(optimalEpsilon))
    .attr("y1", plotTop).attr("y2", plotBottom)
    .attr("stroke", "red").attr("stroke-width", 2.08).attr("stroke-dasharray", "7.7,3.3");
plot.append("line")
    .attr("x1", plotLeft).attr("x2", plotRight)
    .attr("y1", y(resultLine)).attr("y2", y(resultLine))
    .attr("stroke", "red").attr("stroke-width", 2.08).attr("stroke-dasharray", "7.7,3.3");

// frame
svg.append("rect")
    .attr("x", plotLeft).attr("y", plotTop)
    .attr("width", plotRight - plotLeft).attr("height", plotBottom - plotTop)
    .attr("fill", "none").attr("stroke", "black").attr("stroke-width", 1.1);

// x axis: major ticks with labels, minor ticks without
let xMinor = svg.append("g")
    .attr("transform", "translate(0," + plotBottom + ")")
    .call(d3.axisBottom(x).tickValues(x.ticks().filter(t => !xMajorTicks.some(m => Math.abs(m - t) < 1e-9)))
        .tickSize(2.78).tickFormat(""));
xMinor.select(".domain").remove();
xMinor.selectAll("line").attr("stroke-width", 0.83);

let xMajor = svg.append("g")
    .attr("transform", "translate(0," + plotBottom + ")")
    .call(d3.axisBottom(x).tickValues(xMajorTicks).tickSize(4.86).tickFormat(""));
xMajor.select(".domain").remove();
xMajor.selectAll("line").attr("stroke-width", 1.1);
xMajor.selectAll(".tick").each(function(d, i) {
    let t = d3.select(this).append("text")
        .attr("y", 23)
        .attr("fill", "black")
        .attr("text-anchor", "middle")
        .style("font-size", fontSize + "px");
    t.append("tspan").text("10");
    t.append("tspan").attr("dy", -6).style("font-size", "9.7px").text(xMajorExponents[i]);
});

let yAxis = svg.append("g")
    .attr("transform", "translate(" + plotLeft + ",0)")
    .call(d3.axisLeft(y).tickValues(yTicks).tickSize(4.86).tickPadding(4.9)
        .tickFormat(d => d.toFixed(1).replace("-", "\u2212")));
yAxis.select(".domain").remove();
yAxis.selectAll("line").attr("stroke-width", 1.1);
yAxis.selectAll("text").style("font-size", fontSize + "px").attr("fill", "black");

// title and labels
svg.append("text")
    .attr("x", (plotLeft + plotRight) / 2).attr("y", 27)
    .attr("text-anchor", "middle")
    .style("font-size", "16.67px")
    .text(titleText);
svg.append("text")
    .attr("x", (plotLeft + plotRight) / 2).attr("y", 582)
    .attr("text-anchor", "middle")
    .style("font-size", fontSize + "px")
    .text("epsilon");
svg.append("text")
    .attr("transform", "translate(27," + ((plotTop + plotBottom) / 2) + ") rotate(-90)")
    .attr("text-anchor", "middle")
    .style("font-size", fontSize + "px")
    .text("Result");

// legend
let legend = svg.append("g").attr("transform", "translate(762.3,242.3)");
legend.append("rect")
    .attr("width", 216).attr("height", 88).attr("rx", 3)
    .attr("fill", "white").attr("fill-opacity", 0.8)
    .attr("stroke", "#cccccc").attr("stroke-width", 1.1);
let rowY = [12, 32.8, 53.6, 74.4];
legend.append("circle").attr("cx", 20).attr("cy", rowY[0]).attr("r", 4.17).attr("fill", "blue");
legend.append("line").attr("x1", 5.5).attr("x2", 33.5).attr("y1", rowY[1]).attr("y2", rowY[1])
    .attr("stroke", "blue").attr("stroke-width", 2.08);
legend.append("rect").attr("x", 5.5).attr("y", rowY[2] - 4.9).attr("width", 28).attr("height", 9.7)
    .attr("fill", "blue").attr("fill-opacity", 0.3)
    .attr("stroke", "blue").attr("stroke-opacity", 0.3).attr("stroke-width", 1);
legend.append("line").attr("x1", 5.5).attr("x2", 33.5).attr("y1", rowY[3]).attr("y2", rowY[3])
    .attr("stroke", "red").attr("stroke-width", 2.08).attr("stroke-dasharray", "7.7,3.3");
legendLabels.forEach((lab, i) => {
    let t = legend.append("text")
        .attr("x", 45).attr("y", rowY[i] + 5)
        .style("font-size", fontSize + "px")
        .text(lab);
    if (i == 2) t.append("tspan").style("font-style", "italic").text("\u03c3");
});
</script>
</body>
</html>
